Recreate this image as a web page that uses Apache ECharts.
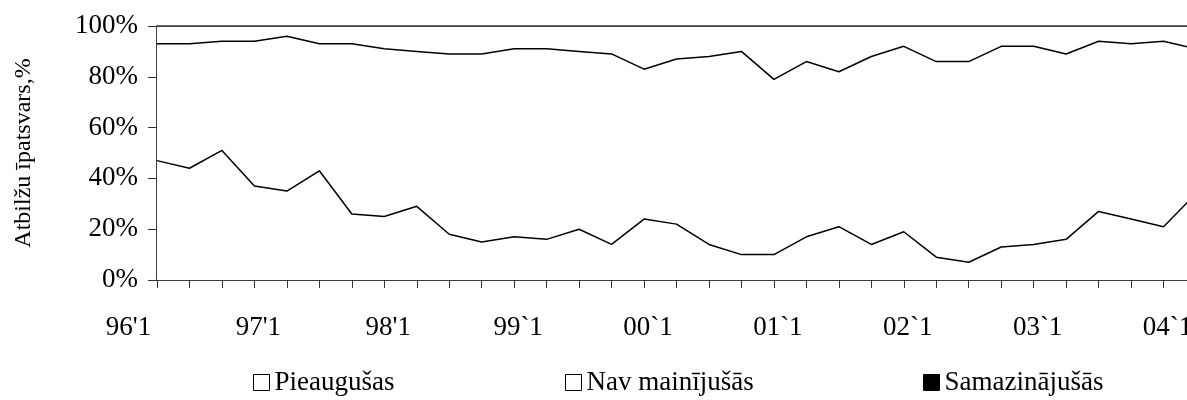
<!DOCTYPE html>
<html>
<head>
  <meta charset="utf-8">
  <title>Atbilžu īpatsvars</title>
  <script src="https://cdn.jsdelivr.net/npm/echarts@6/dist/echarts.min.js"></script>
</head>
<body style="margin:0;background:#fff;">
  <div id="main" style="width:1187px;height:400px;"></div>
  <script type="text/javascript">
    // ceturkšņi 96'1 .. 04'1
    var categories = ["96'1","96'2","96'3","96'4","97'1","97'2","97'3","97'4","98'1","98'2","98'3","98'4",
                      "99`1","99`2","99`3","99`4","00`1","00`2","00`3","00`4","01`1","01`2","01`3","01`4",
                      "02`1","02`2","02`3","02`4","03`1","03`2","03`3","03`4","04`1"];
    var pieaugusas = [47,44,51,37,35,43,26,25,29,18,15,17,16,20,14,24,22,14,10,10,17,21,14,19,9,7,13,14,16,27,24,21,34];
    var navMainijusas = [46,49,43,57,61,50,67,66,61,71,74,74,75,70,75,59,65,74,80,69,69,61,74,73,77,79,79,78,73,67,69,73,57];
    var samazinajusas = [7,7,6,6,4,7,7,9,10,11,11,9,9,10,11,17,13,12,10,21,14,18,12,8,14,14,8,8,11,6,7,6,9];
    var yTicks = [0,20,40,60,80,100];

    var font = "'Liberation Serif', 'Times New Roman', serif";
    var myChart = echarts.init(document.getElementById('main'));

    function lineSeries(name, data) {
      return {
        name: name,
        type: 'line',
        stack: 'total',
        symbol: 'none',
        data: data,
        lineStyle: { color: '#000', width: 1.5 },
        areaStyle: { color: '#fff', opacity: 1 },
        itemStyle: { color: '#fff', borderColor: '#000' }
      };
    }

    function legendAt(left, name, fill) {
      return {
        left: left,
        top: 369,
        padding: 0,
        icon: 'rect',
        itemWidth: 16,
        itemHeight: 16,
        textStyle: { fontFamily: font, fontSize: 27, color: '#000' },
        data: [{ name: name, itemStyle: { color: fill, borderColor: '#000', borderWidth: 1 } }]
      };
    }

    var option = {
      animation: false,
      backgroundColor: '#fff',
      textStyle: { fontFamily: font, color: '#000' },
      grid: { left: 157, top: 26, width: 1039, bottom: 120, outerBoundsMode: 'none' },
      legend: [
        legendAt(253, 'Pieaugušas', '#fff'),
        legendAt(565, 'Nav mainījušās', '#fff'),
        legendAt(923, 'Samazinājušās', '#000')
      ],
      xAxis: {
        type: 'category',
        boundaryGap: false,
        data: categories,
        axisLine: { lineStyle: { color: '#000', width: 1.5 } },
        axisTick: { interval: 0, length: 8, lineStyle: { color: '#333' } },
        axisLabel: {
          interval: 3,
          margin: 34,
          color: '#000',
          fontFamily: font,
          fontSize: 27,
          formatter: function (v) { return '{a|' + v + '}'; },
          rich: { a: { fontFamily: font, fontSize: 27, color: '#000', padding: [0, 57, 0, 0] } }
        },
        splitLine: { show: false }
      },
      yAxis: {
        type: 'value',
        min: yTicks[0],
        max: yTicks[yTicks.length - 1],
        interval: 20,
        name: 'Atbilžu īpatsvars,%',
        nameLocation: 'middle',
        nameGap: 121,
        nameTextStyle: { fontFamily: font, fontSize: 24, color: '#000' },
        axisLine: { show: true, lineStyle: { color: '#000', width: 1.5 } },
        axisTick: { show: true, length: 9, lineStyle: { color: '#333' } },
        axisLabel: { margin: 19, color: '#000', fontFamily: font, fontSize: 27, formatter: '{value}%' },
        splitLine: { show: false }
      },
      series: [
        lineSeries('Pieaugušas', pieaugusas),
        lineSeries('Nav mainījušās', navMainijusas),
        lineSeries('Samazinājušās', samazinajusas)
      ]
    };

    myChart.setOption(option);
  </script>
</body>
</html>
